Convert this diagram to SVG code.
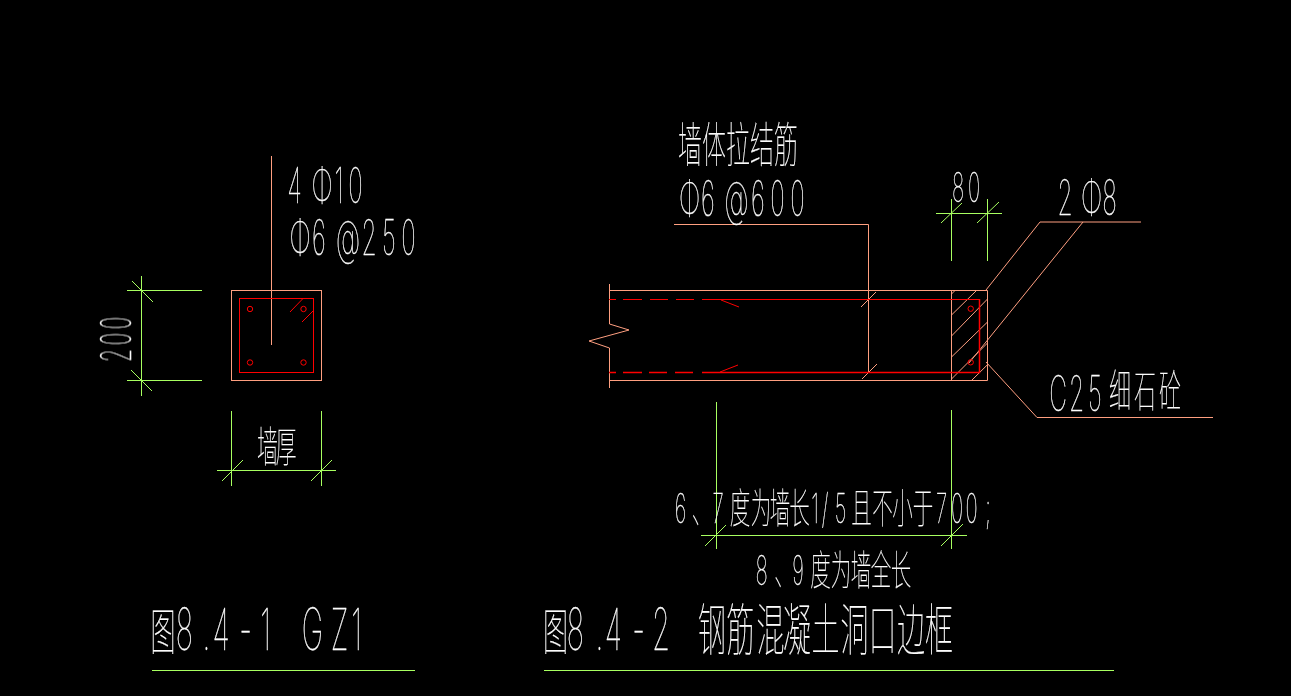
<svg xmlns="http://www.w3.org/2000/svg" width="1291" height="696" viewBox="0 0 1291 696">
<style>
.w{stroke:#ff9f80;stroke-width:1;fill:none}
.r{stroke:#ff0000;stroke-width:1;fill:none}
.rb{stroke:#ff0000;stroke-width:1.5;fill:none}
.g{stroke:#a8ff60;stroke-width:1;fill:none}
text{fill:#fff;stroke:#fff;stroke-width:.4;text-anchor:middle;font-family:Inter,"Liberation Sans","Noto Sans CJK SC",sans-serif;font-weight:100}
.c{font-family:"Noto Sans CJK SC",sans-serif;font-weight:100;stroke-width:.2}
</style>
<rect width="1291" height="696" fill="#000"/>
<g id="connectors">
<path class="w" d="M271.500 156V345M674 224.500H868.500V372M1141 222H1040L986 290M1083 222L969 363M986 362L1037 417.500H1213"/>
<path class="g" d="M127 290.500H202M127 380.500H202M141.500 276V396M132 281L153 302M131 370L152 391"/>
<path class="g" d="M231.500 411V486M321.500 411V486M217 470.500H336M222 481L243 460M311 481L332 460"/>
<path class="g" d="M951.500 199V261M987.500 199V261M936 213.500H1002M941 223L962 203M977 223L999 202"/>
<path class="g" d="M716.500 402V549M951.500 410V549M701 535.500H967M705 546L726 525M941 546L963 524"/>
<path class="g" d="M152 670.500H415M544 670.500H1114"/>
</g>
<g id="gz1-section">
<rect class="w" x="231.500" y="290.500" width="90" height="90"/>
<rect class="r" x="239.500" y="298.500" width="74" height="74"/>
<path class="r" d="M290 312L303 298.500M302 322L313 311"/>
<circle class="r" cx="250" cy="309" r="2.700"/><circle class="r" cx="303.500" cy="309" r="2.700"/>
<circle class="r" cx="250" cy="362.500" r="2.700"/><circle class="r" cx="303.500" cy="362.500" r="2.700"/>
</g>
<g id="wall-frame">
<path class="w" d="M609.500 284V324L629 330L589 341L609.500 348V388M609.500 290.500H987.500V380.500H609.500M951.500 290.500V380.500"/>
<path class="w" d="M861 307L876 292M862 379L877 364"/>
<path class="w" d="M951.500 294L955 290.500M951.500 315L976 291M951.500 336L987.500 299M951.500 357L987.500 322M951.500 379L987.500 343M972 380L987.500 364.700"/>
<path class="rb" d="M609 372.500H616M623 372.500H642M649 372.500H667M675 372.500H693M702 372.500H979.500V299"/>
<path class="r" d="M609 299.500H616M623 299.500H642M650 299.500H668M676 299.500H694M702 299.500H979.500"/>
<path class="r" d="M721 300L739 307M720 372L738 365"/>
<circle class="r" cx="970.700" cy="308.700" r="2.700"/><circle class="r" cx="970.700" cy="362.300" r="2.700"/>
</g>
<g id="labels" opacity=".99">
<g transform="scale(.5,1)">
<text y="162" font-size="48" class="c" x="1380 1428 1476 1524 1572">墙体拉结筋</text>
<text y="216" font-size="49" x="1379 1416 1473 1516 1555 1595">Φ6@600</text>
<text y="203" font-size="49" x="589 644 678 711">4Φ10</text>
<text y="255" font-size="49" x="600 638 696 738 778 817">Φ6@250</text>
<text y="202" font-size="41" x="1916 1948">80</text>
<text y="215" font-size="49" x="2130 2183 2219">2Φ8</text>
<text y="411" font-size="49" x="2116 2153 2190">C25</text>
<text y="407" font-size="44" class="c" x="2240 2290 2340">细石砼</text>
<text y="462" font-size="42" class="c" x="535 572">墙厚</text>
<text y="523" font-size="41"><tspan x="1361">6</tspan><tspan class="c" x="1404">、</tspan><tspan x="1436">7</tspan><tspan class="c" x="1480 1522 1560 1599">度为墙长</tspan><tspan x="1630 1650 1681">1/5</tspan><tspan class="c" x="1723 1765 1805 1846">且不小于</tspan><tspan x="1883 1914 1943 1976">700;</tspan></text>
<text y="585" font-size="41"><tspan x="1523">8</tspan><tspan class="c" x="1569">、</tspan><tspan x="1596">9</tspan><tspan class="c" x="1641 1682 1722 1762 1802">度为墙全长</tspan></text>
<text y="650" font-size="58"><tspan class="c" font-size="50" x="326">图</tspan><tspan x="369 413 442 491 531 625 679 713">8.4-1GZ1</tspan></text>
<text y="650" font-size="58"><tspan class="c" font-size="50" x="1111">图</tspan><tspan x="1151 1199 1227 1277 1322">8.4-2</tspan><tspan class="c" font-size="56" x="1424 1481 1541 1594 1651 1709 1765 1822 1878">钢筋混凝土洞口边框</tspan></text>
</g>
<text transform="translate(131,0) rotate(-90) scale(.5,1)" y="0" font-size="42" x="-711 -678 -646">200</text>
</g>
</svg>
